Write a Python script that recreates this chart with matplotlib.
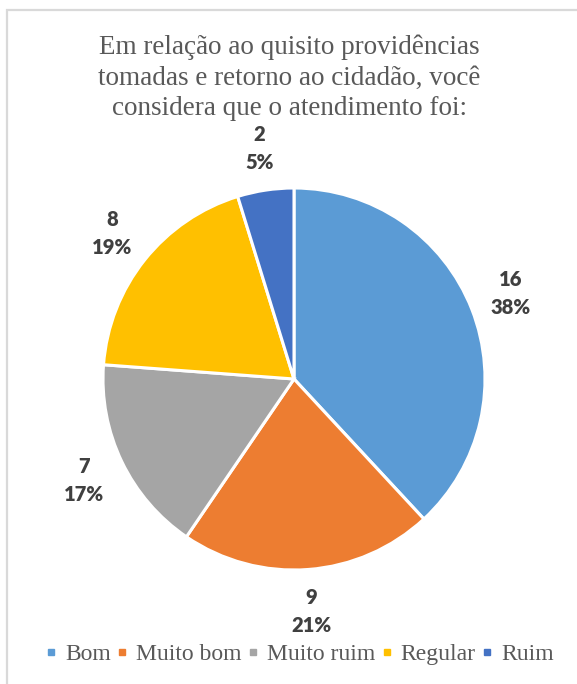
import numpy as np
import matplotlib
matplotlib.use("Agg")
import matplotlib.pyplot as plt
from matplotlib.lines import Line2D
from matplotlib.patches import Rectangle

# Survey answers
categories = ["Bom", "Muito bom", "Muito ruim", "Regular", "Ruim"]
counts = [16, 9, 7, 8, 2]
colors = ["#5B9BD5", "#ED7D31", "#A5A5A5", "#FFC000", "#4472C4"]
title = "Em relação ao quisito providências\ntomadas e retorno ao cidadão, você\nconsidera que o atendimento foi:"

W, H = 577, 684
DPI = 100
fig = plt.figure(figsize=(W / DPI, H / DPI), dpi=DPI)
fig.patch.set_facecolor("white")

# Light frame around the chart area (open to the right and bottom)
frame = Rectangle((6.5 / W, -0.05), 1.1, (H - 9.5) / H + 0.05,
                  transform=fig.transFigure, fill=False,
                  edgecolor="#D9D9D9", linewidth=1.6)
fig.add_artist(frame)

# Pie axes positioned in pixels
cx, cy, R = 294, 379, 191
ax = fig.add_axes([(cx - R) / W, (H - cy - R) / H, 2 * R / W, 2 * R / H])
ax.axis("off")

wedges, _ = ax.pie(counts, colors=colors, startangle=90, counterclock=False,
                   radius=1.0, wedgeprops=dict(edgecolor="white", linewidth=2.2))
ax.set_xlim(-1, 1)
ax.set_ylim(-1, 1)
ax.set_aspect("equal")

total = sum(counts)
label_r = 1.22
for w, c in zip(wedges, counts):
    ang = np.deg2rad((w.theta1 + w.theta2) / 2)
    x, y = label_r * np.cos(ang), label_r * np.sin(ang)
    pct = round(100 * c / total)
    ax.text(x, y, f"{c}\n{pct}%", ha="center", va="center",
            fontsize=14.5, fontweight="heavy", family="Lato", color="#404040",
            linespacing=1.55, clip_on=False)

fig.text(0.5 + 1 / W, 1 - 78 / H, title, ha="center", va="center",
         family="Liberation Serif", fontsize=19.5, color="#595959",
         linespacing=1.28)

handles = [Line2D([], [], linestyle="none", marker="s", markersize=4.5,
                  markerfacecolor=col, markeredgecolor=col) for col in colors]
fig.legend(handles, categories, loc="center", bbox_to_anchor=(299.5 / W, 1 - 654 / H),
           ncol=5, frameon=False, handlelength=0.5, handletextpad=0.35,
           columnspacing=0.22, borderaxespad=0,
           prop=dict(family="Liberation Serif", size=17), labelcolor="#595959")

fig.savefig("out.png", dpi=DPI, facecolor="white")
